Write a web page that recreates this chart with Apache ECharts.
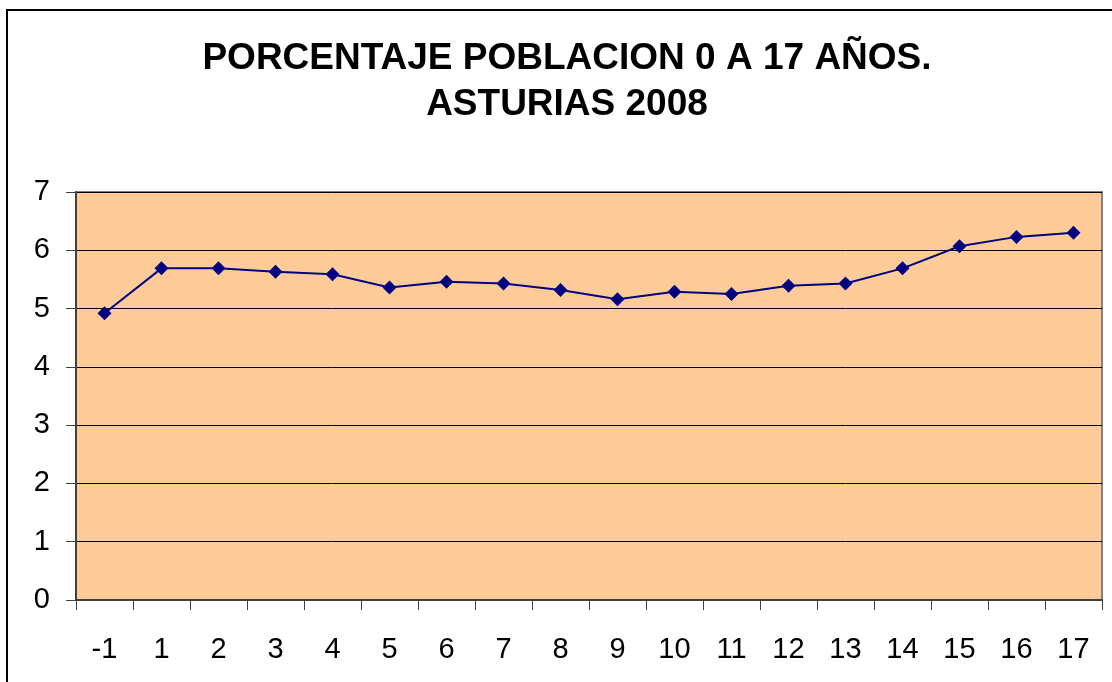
<!DOCTYPE html>
<html>
<head>
<meta charset="utf-8">
<script src="https://cdn.jsdelivr.net/npm/echarts@6/dist/echarts.min.js"></script>
<style>
  html, body { margin: 0; padding: 0; background: #fff; }
  #graf { width: 1112px; height: 682px; }
</style>
</head>
<body>
<div id="graf"></div>
<script>
// edades (eje x) y porcentajes
var edades = ['-1', '1', '2', '3', '4', '5', '6', '7', '8', '9', '10', '11', '12', '13', '14', '15', '16', '17'];
var porcentajes = [4.92, 5.69, 5.69, 5.63, 5.59, 5.36, 5.46, 5.43, 5.32, 5.16, 5.29, 5.25, 5.39, 5.43, 5.69, 6.07, 6.23, 6.30];
var tituloLineas = ['PORCENTAJE POBLACION 0 A 17 AÑOS.', 'ASTURIAS 2008'];

var myChart = echarts.init(document.getElementById('graf'));

var option = {
  backgroundColor: '#fff',
  animation: false,
  title: {
    text: tituloLineas.join('\n'),
    left: 562,
    top: 31,
    textAlign: 'center',
    textStyle: {
      color: '#000',
      fontFamily: 'Liberation Sans, Arial, sans-serif',
      fontWeight: 'bold',
      fontSize: 37,
      lineHeight: 46
    }
  },
  graphic: [
    {
      // marco exterior del grafico
      type: 'rect',
      shape: { x: 7, y: 10, width: 1200, height: 800 },
      style: { fill: 'none', stroke: '#000', lineWidth: 2 },
      silent: true
    }
  ],
  grid: {
    left: 76,
    right: 10,
    top: 192,
    bottom: 82,
    show: true,
    backgroundColor: '#FFCC99',
    borderColor: '#808080',
    borderWidth: 2
  },
  xAxis: {
    type: 'category',
    data: edades,
    boundaryGap: true,
    axisLine: { lineStyle: { color: '#404040', width: 2 } },
    axisTick: { show: true, length: 10, interval: 0, lineStyle: { color: '#404040', width: 1 } },
    axisLabel: {
      interval: 0,
      margin: 35,
      color: '#000',
      fontFamily: 'Liberation Sans, Arial, sans-serif',
      fontSize: 29
    },
    splitLine: { show: false }
  },
  yAxis: {
    type: 'value',
    min: 0,
    max: 7,
    interval: 1,
    axisLine: { show: true, lineStyle: { color: '#404040', width: 2 } },
    axisTick: { show: true, length: 10, lineStyle: { color: '#404040', width: 1 } },
    axisLabel: {
      margin: 26,
      color: '#000',
      fontFamily: 'Liberation Sans, Arial, sans-serif',
      fontSize: 29
    },
    splitLine: { show: true, lineStyle: { color: '#000', width: 1 } }
  },
  series: [
    {
      name: 'Porcentaje',
      type: 'line',
      data: porcentajes,
      symbol: 'diamond',
      symbolSize: 14,
      lineStyle: { color: '#000080', width: 2 },
      itemStyle: { color: '#000080' }
    }
  ]
};

myChart.setOption(option);
</script>
</body>
</html>
